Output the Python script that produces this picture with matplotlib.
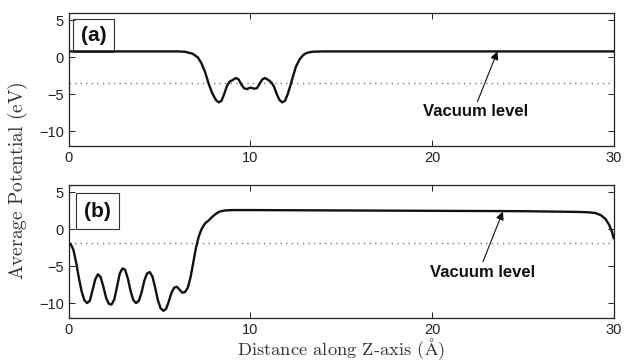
import matplotlib
matplotlib.use("Agg")
import matplotlib.pyplot as plt

plt.rcParams['font.family'] = ['Liberation Sans', 'DejaVu Sans']
plt.rcParams['mathtext.fontset'] = 'cm'

# planar-averaged potential, panel (a)
za = [0.0, 6.0, 6.4, 6.8, 7.1, 7.3, 7.5, 7.7, 7.9, 8.1, 8.25, 8.4, 8.55, 8.7, 8.85,
      9.0, 9.2, 9.35, 9.5, 9.65, 9.8, 10.0, 10.2, 10.35, 10.5, 10.65, 10.8, 11.0,
      11.15, 11.3, 11.45, 11.6, 11.75, 11.9, 12.05, 12.2, 12.35, 12.5, 12.7, 12.9,
      13.1, 13.4, 14.0, 30.0]
va = [0.8, 0.8, 0.75, 0.5, 0.0, -0.8, -2.0, -3.6, -4.9, -5.8, -6.1, -5.9, -5.0, -3.9, -3.3,
      -3.1, -2.8, -3.0, -3.7, -4.2, -4.3, -4.1, -4.25, -4.2, -3.6, -3.0, -2.8, -3.1,
      -3.4, -4.0, -5.0, -5.8, -6.1, -5.9, -5.0, -3.8, -2.5, -1.3, -0.3, 0.3,
      0.6, 0.75, 0.8, 0.8]

# panel (b)
zb = [0.1, 0.25, 0.4, 0.55, 0.7, 0.85, 1.0, 1.15, 1.3, 1.45, 1.6, 1.75, 1.9, 2.05,
      2.2, 2.35, 2.5, 2.65, 2.8, 2.95, 3.1, 3.25, 3.4, 3.55, 3.7, 3.85, 4.0, 4.15,
      4.3, 4.45, 4.6, 4.75, 4.9, 5.05, 5.2, 5.35, 5.5, 5.65, 5.8, 5.95, 6.1, 6.25,
      6.4, 6.55, 6.7, 6.85, 7.0, 7.15, 7.3, 7.5, 7.7, 7.9, 8.1, 8.3, 8.6, 9.0, 10.0,
      20.0, 25.0, 28.0, 28.6, 29.0, 29.3, 29.55, 29.75, 29.9, 30.0]
vb = [-2.0, -2.8, -4.5, -6.6, -8.4, -9.6, -10.0, -9.7, -8.3, -6.8, -6.1, -6.5, -7.8, -9.3,
      -10.1, -10.2, -9.5, -7.8, -6.0, -5.3, -5.5, -6.7, -8.4, -9.6, -10.0, -9.7, -8.6, -7.0,
      -6.0, -5.8, -6.4, -7.9, -9.6, -10.7, -11.05, -10.8, -9.8, -8.6, -7.9, -7.8, -8.2, -8.6,
      -8.5, -7.9, -6.5, -4.5, -2.5, -1.0, 0.0, 0.8, 1.2, 1.7, 2.1, 2.4, 2.55, 2.6, 2.6,
      2.5, 2.45, 2.35, 2.3, 2.2, 1.9, 1.4, 0.6, -0.3, -1.2]

panels = ['(a)', '(b)']
levels = [-3.5, -1.85]
xticks = [0, 10, 20, 30]
yticks = [-10, -5, 0, 5]

fig = plt.figure(figsize=(6.32, 3.62), dpi=100)
ax1 = fig.add_axes([0.109, 0.597, 0.862, 0.367])
ax2 = fig.add_axes([0.109, 0.122, 0.862, 0.367])

arrows = [((23.6, 0.8), (22.5, -6.0), (22.4, -7.4)),
          ((23.9, 2.4), (22.8, -4.4), (22.8, -5.8))]
boxes = [(0.22, 0.73, 2.26, 4.45), (0.39, 0.0, 2.37, 4.9)]

for ax, z, v, lab, lev, arr, box in zip([ax1, ax2], [za, zb], [va, vb], panels, levels, arrows, boxes):
    ax.plot(z, v, color='#111111', lw=1.7, zorder=3)
    ax.axhline(lev, color='#777777', lw=1.0, ls=(0, (1, 3)), zorder=2)
    ax.set_xlim(0, 30)
    ax.set_ylim(-12, 6)
    ax.set_xticks(xticks)
    ax.set_yticks(yticks)
    ax.set_yticklabels(['\u221210', '\u22125', '0', '5'])
    ax.tick_params(direction='in', top=True, right=True, length=4, width=0.7,
                   labelsize=10.5, colors='#222222')
    for s in ax.spines.values():
        s.set_linewidth(0.9)
        s.set_color('#222222')
    # label box in the corner
    ax.add_patch(plt.Rectangle((box[0], box[1]), box[2], box[3], fill=False,
                               ec='#333333', lw=0.8, zorder=4))
    ax.text(box[0] + box[2] / 2, box[1] + box[3] / 2, lab, ha='center', va='center',
            fontsize=15, fontweight='bold', color='#111111', zorder=5)
    ax.annotate('', xy=arr[0], xytext=arr[1],
                arrowprops=dict(arrowstyle='-|>', color='#111111', lw=0.8,
                                mutation_scale=12, shrinkA=0, shrinkB=0))
    ax.text(arr[2][0], arr[2][1], 'Vacuum level', ha='center', va='center',
            fontsize=12, fontweight='bold', color='#111111')

ax2.set_xlabel(r'$\text{Distance along Z-axis (Å)}$', fontsize=13.3, labelpad=0, color='#333333')
fig.text(0.028, 0.5, r'$\text{Average Potential (eV)}$', rotation=90,
         ha='center', va='center', fontsize=14, color='#333333')

fig.savefig('out.png', dpi=100)
